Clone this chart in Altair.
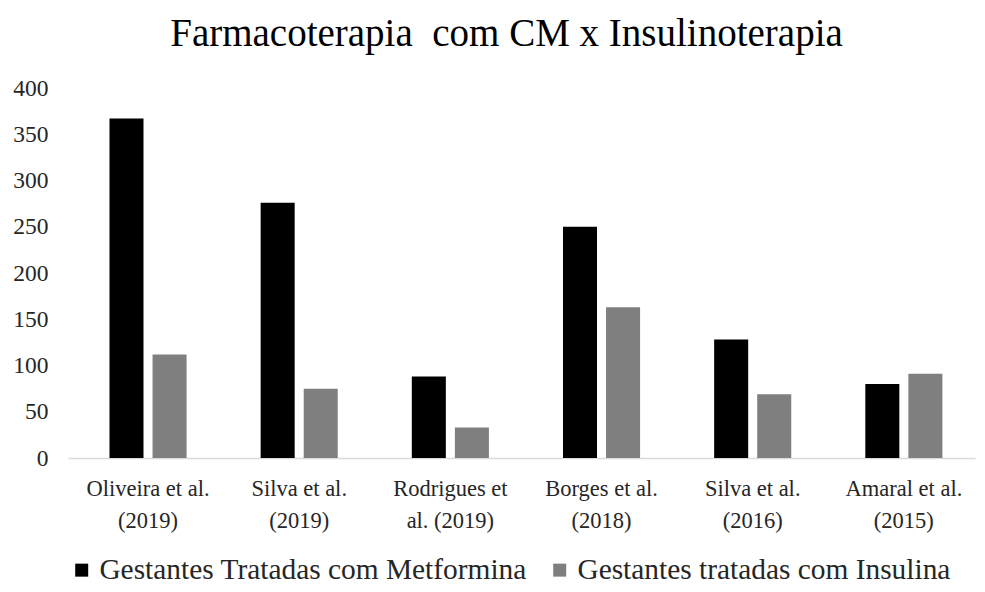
import altair as alt
import pandas as pd

categories = ["Oliveira et al.|(2019)", "Silva et al.|(2019)", "Rodrigues et|al. (2019)",
              "Borges et al.|(2018)", "Silva et al.|(2016)", "Amaral et al.|(2015)"]
metformina = [367, 276, 88, 250, 128, 80]
insulina = [112, 75, 33, 163, 69, 91]
series = ["Gestantes Tratadas com Metformina", "Gestantes tratadas com Insulina"]
colors = ["#000000", "#7f7f7f"]

rows = []
for c, m, i in zip(categories, metformina, insulina):
    rows.append({"cat": c, "serie": series[0], "valor": m})
    rows.append({"cat": c, "serie": series[1], "valor": i})
df = pd.DataFrame(rows)

FONT = "Times New Roman, Liberation Serif, DejaVu Serif, serif"

chart = alt.Chart(df).mark_bar().encode(
    x=alt.X("cat:N", sort=categories, title=None,
            scale=alt.Scale(paddingInner=0.49, paddingOuter=0.245, align=0.56),
            axis=alt.Axis(labelAngle=0, labelExpr="split(datum.label, '|')",
                          labelFont=FONT, labelFontSize=22.5, labelColor="#262626",
                          labelLineHeight=32, labelPadding=19, ticks=False, labelLimit=0,
                          domainColor="#d9d9d9", domainWidth=1.5, labelBaseline="top")),
    xOffset=alt.XOffset("serie:N", sort=series, scale=alt.Scale(paddingInner=0.21)),
    y=alt.Y("valor:Q", title=None,
            scale=alt.Scale(domain=[0, 400]),
            axis=alt.Axis(values=list(range(0, 401, 50)), grid=False, ticks=False, domain=False,
                          labelFont=FONT, labelFontSize=23.5, labelColor="#262626",
                          labelPadding=20)),
    color=alt.Color("serie:N", sort=series,
                    scale=alt.Scale(domain=series, range=colors),
                    legend=alt.Legend(title=None, orient="none", direction="horizontal",
                                      legendX=-1, legendY=467,
                                      symbolType="square", symbolSize=169, symbolStrokeWidth=0,
                                      labelFont=FONT, labelFontSize=29.4, labelColor="#262626",
                                      labelLimit=0, columnPadding=18, symbolOffset=0, labelOffset=3)),
).properties(
    width=907, height=370,
    title=alt.TitleParams("Farmacoterapia\u00a0 com CM x Insulinoterapia", font=FONT, fontSize=39,
                          fontWeight="normal", color="#000000", offset=22, dx=-15),
    padding={"left": 60, "top": 80, "right": 2, "bottom": 126},
    autosize=alt.AutoSizeParams(type="none"),
).configure_view(stroke=None)

chart.save("out.html", embed_options={"renderer": "svg", "actions": False})
